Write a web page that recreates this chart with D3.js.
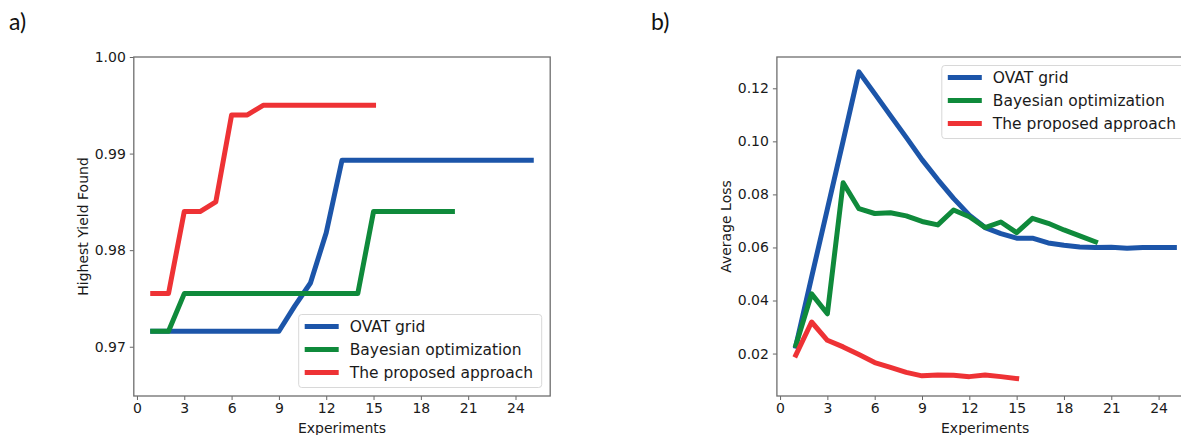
<!DOCTYPE html>
<html>
<head>
<meta charset="UTF-8">
<style>
  body { margin: 0; background: #fff; }
  text { font-family: "DejaVu Sans", sans-serif; fill: #1a1a1a; }
  .tick text { font-size: 14px; }
  .tick line { stroke: #666; }
  .axis-label { font-size: 14px; }
  .panel-tag { font-family: Lato, "Open Sans", sans-serif; font-size: 23px; fill: #111; }
  .legend text { font-size: 15.5px; }
</style>
</head>
<body>
<script src="https://d3js.org/d3.v7.min.js"></script>
<script>
// data
var experiments = [1,2,3,4,5,6,7,8,9,10,11,12,13,14,15,16,17,18,19,20,21,22,23,24,25];
var seriesNames = ["OVAT grid", "Bayesian optimization", "The proposed approach"];
var seriesColors = ["#1c55a9", "#0f8a3b", "#ee3235"];

// panel a) highest yield found
var yieldOvat = [0.9716,0.9716,0.9716,0.9716,0.9716,0.9716,0.9716,0.9716,0.9716,
                 0.9742,0.9766,0.9818,
                 0.9893,0.9893,0.9893,0.9893,0.9893,0.9893,0.9893,0.9893,0.9893,0.9893,0.9893,0.9893,0.9893];
var yieldBayes = [0.9716,0.9716,0.9755,0.9755,0.9755,0.9755,0.9755,0.9755,0.9755,0.9755,0.9755,0.9755,0.9755,0.9755,
                  0.9840,0.9840,0.9840,0.9840,0.9840,0.9840];
var yieldProposed = [0.9755,0.9755,0.9840,0.9840,0.9850,0.9940,0.9940,
                     0.9950,0.9950,0.9950,0.9950,0.9950,0.9950,0.9950,0.9950];
var yieldTicks = [0.97, 0.98, 0.99, 1.00];

// panel b) average loss
var lossOvat = [0.0228,0.0488,0.0745,0.1002,0.1262,0.1180,0.1097,0.1015,0.0931,0.0856,0.0785,0.0722,0.0675,
                0.0652,0.0635,0.0635,0.0617,0.0608,0.0602,0.0600,0.0601,0.0597,0.0600,0.0600,0.0600];
var lossBayes = [0.0231,0.0425,0.0350,0.0844,0.0746,0.0728,0.0731,0.0719,0.0698,0.0685,0.0741,0.0716,0.0675,
                 0.0696,0.0656,0.0710,0.0691,0.0666,0.0644,0.0621];
var lossProposed = [0.0194,0.0319,0.0250,0.0225,0.0196,0.0166,0.0148,0.0129,0.0116,0.0119,0.0118,0.0113,0.0119,
                    0.0113,0.0106];
var lossTicks = [0.02, 0.04, 0.06, 0.08, 0.10, 0.12];

var xTicks = [0, 3, 6, 9, 12, 15, 18, 21, 24];

var W = 1181, H = 435;
var svg = d3.select("body").append("svg")
    .attr("width", W)
    .attr("height", H);

function drawPanel(p) {
    var top = 57, bottom = 396, plotW = 416.4;
    var x = d3.scaleLinear().domain([-0.2, 26.2]).range([p.left, p.left + plotW]);
    var y = d3.scaleLinear().domain(p.yDomain).range([bottom, top]);

    var g = svg.append("g");

    // x axis
    g.append("g")
        .attr("transform", "translate(0," + bottom + ")")
        .call(d3.axisBottom(x).tickValues(xTicks).tickSize(4).tickSizeOuter(0).tickPadding(3))
        .call(function(a) { a.select(".domain").remove(); })
        .selectAll("text").attr("dy", "0.72em");

    // y axis
    g.append("g")
        .attr("transform", "translate(" + p.left + ",0)")
        .call(d3.axisLeft(y).tickValues(p.yTicks).tickFormat(d3.format(".2f")).tickSize(4).tickSizeOuter(0).tickPadding(4))
        .call(function(a) { a.select(".domain").remove(); });

    // lines
    var line = d3.line()
        .x(function(d, i) { return x(experiments[i]); })
        .y(function(d) { return y(d); });

    p.series.forEach(function(s, k) {
        g.append("path")
            .datum(s)
            .attr("d", line)
            .attr("fill", "none")
            .attr("stroke", seriesColors[k])
            .attr("stroke-width", 5)
            .attr("stroke-linecap", "square")
            .attr("stroke-linejoin", "round");
    });

    // frame
    g.append("rect")
        .attr("x", p.left)
        .attr("y", top)
        .attr("width", plotW)
        .attr("height", bottom - top)
        .attr("fill", "none")
        .attr("stroke", "#6e6e6e")
        .attr("stroke-width", 1.3);

    // labels
    g.append("text")
        .attr("class", "axis-label")
        .attr("x", p.left + plotW / 2)
        .attr("y", 433)
        .attr("text-anchor", "middle")
        .text("Experiments");

    g.append("text")
        .attr("class", "axis-label")
        .attr("transform", "translate(" + p.yLabelX + "," + (top + bottom) / 2 + ") rotate(-90)")
        .attr("text-anchor", "middle")
        .text(p.yLabel);

    g.append("text")
        .attr("class", "panel-tag")
        .attr("x", p.tagX)
        .attr("y", 30)
        .text(p.tag);

    // legend
    var lw = 243, lh = 73, pad = 8.5;
    var lx = p.left + plotW - pad - lw;
    var ly = p.legendPos === "upper" ? top + pad : bottom - pad - lh;
    var lg = g.append("g").attr("class", "legend").attr("transform", "translate(" + lx + "," + ly + ")");
    lg.append("rect")
        .attr("width", lw)
        .attr("height", lh)
        .attr("rx", 3)
        .attr("fill", "#fff")
        .attr("fill-opacity", 0.8)
        .attr("stroke", "#d8d8d8");
    seriesNames.forEach(function(name, k) {
        var ry = 12 + k * 23;
        lg.append("line")
            .attr("x1", 6).attr("x2", 40)
            .attr("y1", ry).attr("y2", ry)
            .attr("stroke", seriesColors[k])
            .attr("stroke-width", 5);
        lg.append("text")
            .attr("x", 51)
            .attr("y", ry + 5.5)
            .text(name);
    });
}

drawPanel({
    left: 133.8,
    yDomain: [0.9649, 1.0],
    yTicks: yieldTicks,
    series: [yieldOvat, yieldBayes, yieldProposed],
    yLabel: "Highest Yield Found",
    yLabelX: 88,
    tag: "a)",
    tagX: 9,
    legendPos: "lower"
});

drawPanel({
    left: 776.9,
    yDomain: [0.0040, 0.1318],
    yTicks: lossTicks,
    series: [lossOvat, lossBayes, lossProposed],
    yLabel: "Average Loss",
    yLabelX: 731,
    tag: "b)",
    tagX: 651,
    legendPos: "upper"
});
</script>
</body>
</html>
